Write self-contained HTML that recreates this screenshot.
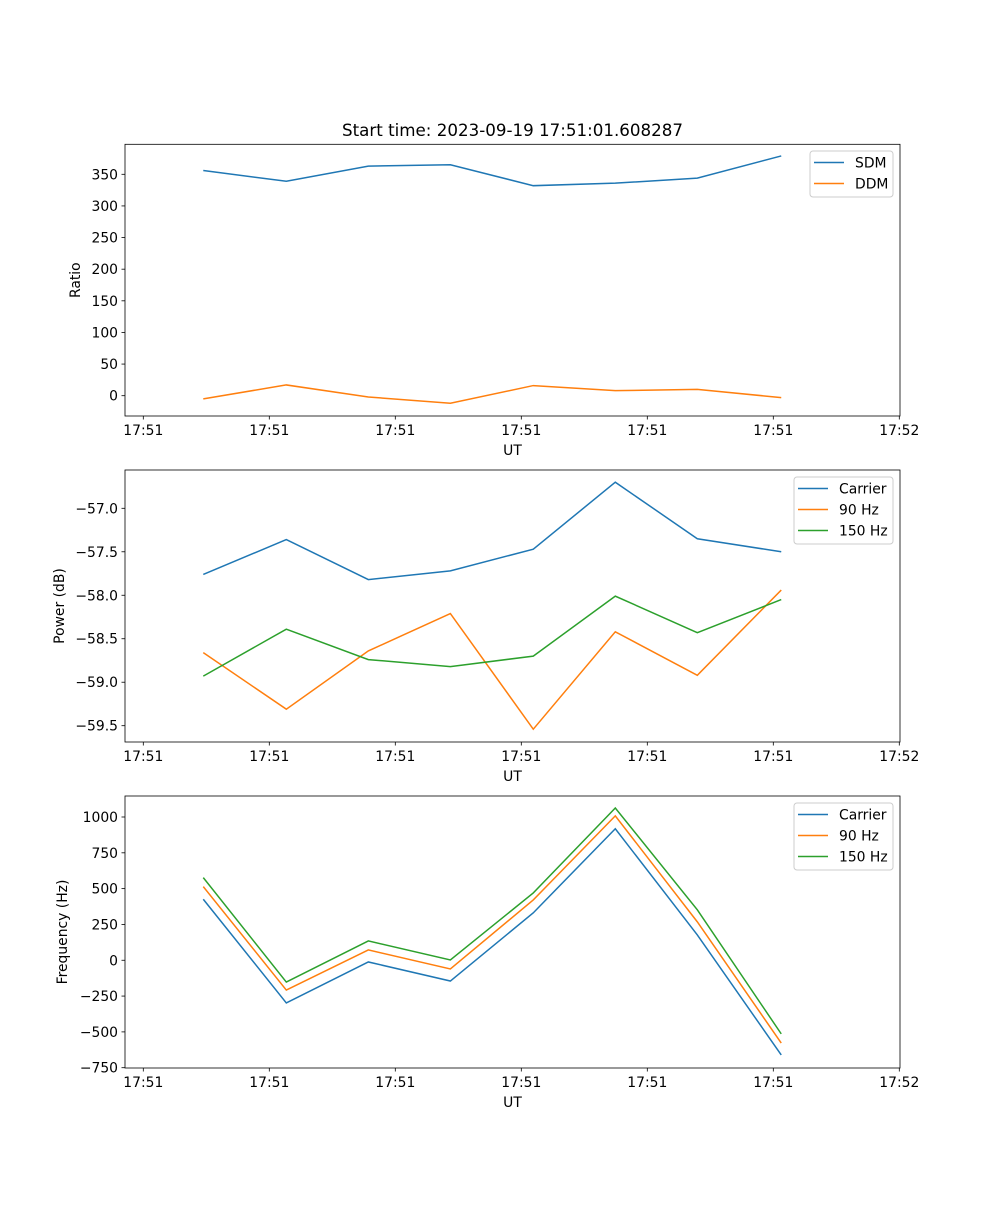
<!DOCTYPE html>
<html><head><meta charset="utf-8"><style>
body{margin:0;background:#fff}
svg text{font-family:"DejaVu Sans","Liberation Sans",sans-serif;font-size:13.9px;fill:#000}
</style></head><body>
<svg id="fig" width="1000" height="1200" xmlns="http://www.w3.org/2000/svg">
<rect width="1000" height="1200" fill="#fff"/>
<text x="512.5" y="136" text-anchor="middle" font-size="16.7" style="font-size:16.7px">Start time: 2023-09-19 17:51:01.608287</text>
</svg>
<script>
const xTickLabels=["17:51","17:51","17:51","17:51","17:51","17:51","17:52"];
const times=[0.476,1.135,1.786,2.437,3.095,3.746,4.397,5.063];
const sdm=[356,339,363,365,332,336,344,379];
const ddm=[-5,17,-2,-12,16,8,10,-3];
const pCarrier=[-57.76,-57.36,-57.82,-57.72,-57.47,-56.70,-57.35,-57.50];
const p90=[-58.66,-59.31,-58.64,-58.21,-59.54,-58.42,-58.92,-57.94];
const p150=[-58.93,-58.39,-58.74,-58.82,-58.70,-58.01,-58.43,-58.05];
const fCarrier=[426,-298,-12,-145,331,918,177,-661];
const f90=[514,-208,72,-61,421,1008,268,-578];
const f150=[577,-152,135,2,470,1063,352,-514];
const ratioTicks=[0,50,100,150,200,250,300,350];
const powerTicks=[-57.0,-57.5,-58.0,-58.5,-59.0,-59.5];
const freqTicks=[1000,750,500,250,0,-250,-500,-750];

const NS="http://www.w3.org/2000/svg";
const svg=document.getElementById('fig');
function mk(tag,attrs,parent){const e=document.createElementNS(NS,tag);for(const k in attrs)e.setAttribute(k,attrs[k]);(parent||svg).appendChild(e);return e;}
const X0=125,X1=900;
function xs(t){return 143.3+t*126;}
const colors=["#1f77b4","#ff7f0e","#2ca02c"];

function panel(name,top,bottom,yv0,yp0,yv1,yp1,ticks,fmt,ylabel,ylabX,series,names,legend){
  const ys=v=>yp0+(v-yv0)*(yp1-yp0)/(yv1-yv0);
  const g=mk('g',{});
  
  
  series.forEach((s,i)=>{
    const p=mk('polyline',{points:s.map((v,j)=>xs(times[j])+','+ys(v)).join(' '),fill:'none',stroke:colors[i],'stroke-width':1.5},g);
    
    
  });
  const fr=mk('rect',{x:X0,y:top,width:X1-X0,height:bottom-top,fill:'none',stroke:'#000','stroke-width':0.8},g);
  
  
  xTickLabels.forEach((l,i)=>{
    const x=xs(i);
    mk('line',{x1:x,x2:x,y1:bottom,y2:bottom+3.5,stroke:'#000','stroke-width':0.8},g);
    const t=mk('text',{x:x,y:bottom+19,'text-anchor':'middle'},g);t.textContent=l;
    
    
  });
  ticks.forEach(v=>{
    const y=ys(v);
    mk('line',{x1:X0-3.5,x2:X0,y1:y,y2:y,stroke:'#000','stroke-width':0.8},g);
    const t=mk('text',{x:X0-7,y:y+5,'text-anchor':'end'},g);t.textContent=fmt(v);
    
    
  });
  const xl=mk('text',{x:512.5,y:bottom+39,'text-anchor':'middle'},g);xl.textContent='UT';
  
  
  const cy=(top+bottom)/2;
  const yl=mk('text',{x:ylabX,y:cy,'text-anchor':'middle',transform:`rotate(-90 ${ylabX} ${cy})`},g);yl.textContent=ylabel;
  
  
  const lg=mk('g',{},g);
  
  
  mk('rect',{x:legend.x,y:legend.y,width:legend.w,height:4+names.length*21,rx:3,fill:'#fff','fill-opacity':0.8,stroke:'#ccc','stroke-width':1},lg);
  names.forEach((n,i)=>{
    const y=legend.y+11.5+i*21;
    mk('line',{x1:legend.x+4,x2:legend.x+34,y1:y,y2:y,stroke:colors[i],'stroke-width':1.5},lg);
    const t=mk('text',{x:legend.x+45,y:y+5},lg);t.textContent=n;
    
    
  });
}
panel('ratio',144.3,416,0,395.7,350,174.3,ratioTicks,v=>String(v),'Ratio',80,[sdm,ddm],['SDM','DDM'],{x:810,y:151,w:83});
panel('power',470,742,-57.0,508.3,-59.5,725.7,powerTicks,v=>'\u2212'+Math.abs(v).toFixed(1),'Power (dB)',64,[pCarrier,p90,p150],['Carrier','90 Hz','150 Hz'],{x:794,y:477,w:99});
panel('frequency',796,1068,1000,817,-750,1067.7,freqTicks,v=>(v<0?'\u2212':'')+Math.abs(v),'Frequency (Hz)',67,[fCarrier,f90,f150],['Carrier','90 Hz','150 Hz'],{x:794,y:803,w:99});
</script>
</body></html>
